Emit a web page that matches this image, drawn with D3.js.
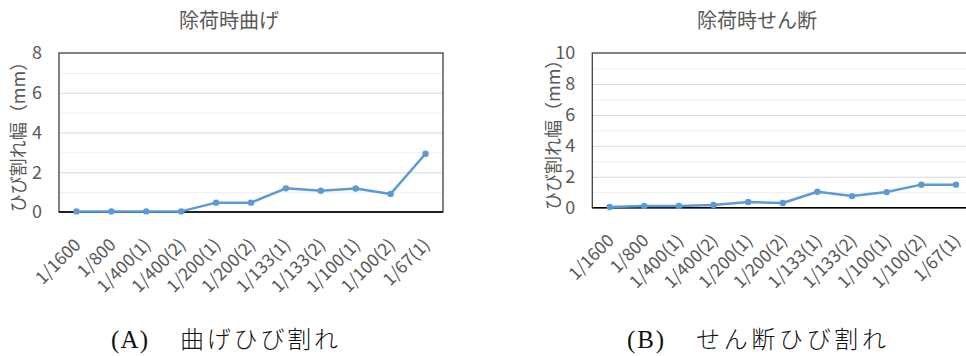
<!DOCTYPE html>
<html>
<head>
<meta charset="utf-8">
<script src="https://cdn.jsdelivr.net/npm/d3@7"></script>
<style>
  html, body { margin: 0; padding: 0; background: #fff; overflow: hidden; }
  svg { display: block; }
</style>
</head>
<body>
<svg id="chart" width="966" height="356"></svg>
<script>
// Drift stages (x axis)
const categories = ["1/1600", "1/800", "1/400(1)", "1/400(2)", "1/200(1)", "1/200(2)",
                    "1/133(1)", "1/133(2)", "1/100(1)", "1/100(2)", "1/67(1)"];
// Residual crack width after unloading (mm)
const bendingWidth = [0.03, 0.03, 0.03, 0.03, 0.47, 0.47, 1.19, 1.07, 1.18, 0.91, 2.93];
const shearWidth   = [0.05, 0.11, 0.11, 0.17, 0.37, 0.30, 1.03, 0.75, 1.01, 1.49, 1.49];
// Axis settings
const bendingTicks = [0, 2, 4, 6, 8];
const shearTicks = [0, 2, 4, 6, 8, 10];

const yLabel = "ひび割れ幅（mm）";
const font = "'Noto Sans CJK JP', 'Noto Sans', sans-serif";
const textColor = "#595959";
const lineColor = "#5b9bd5";

const svg = d3.select("#chart");

function drawPanel(cfg) {
  const g = svg.append("g");
  const x = d3.scalePoint().domain(categories).range([cfg.left, cfg.right]).padding(0.5);
  const y = d3.scaleLinear().domain([0, cfg.max]).range([cfg.bottom, cfg.top]);
  const w = cfg.right - cfg.left;

  // minor gridlines (odd values)
  const minor = d3.range(1, cfg.max, 2);
  g.append("g")
    .attr("transform", `translate(${cfg.left},0)`)
    .call(d3.axisLeft(y).tickValues(minor).tickSize(-w).tickFormat(""))
    .call(s => s.select(".domain").remove())
    .call(s => s.selectAll("line").attr("stroke", "#eeeeee").attr("stroke-width", 1));

  // major gridlines
  g.append("g")
    .attr("transform", `translate(${cfg.left},0)`)
    .call(d3.axisLeft(y).tickValues(cfg.ticks.filter(t => t > 0 && t < cfg.max)).tickSize(-w).tickFormat(""))
    .call(s => s.select(".domain").remove())
    .call(s => s.selectAll("line").attr("stroke", "#d9d9d9").attr("stroke-width", 1));

  // frame
  g.append("rect")
    .attr("x", cfg.left).attr("y", cfg.top)
    .attr("width", w).attr("height", cfg.bottom - cfg.top)
    .attr("fill", "none").attr("stroke", "#404040").attr("stroke-width", 1.3);

  // y tick labels
  g.append("g")
    .attr("transform", `translate(${cfg.left},0)`)
    .call(d3.axisLeft(y).tickValues(cfg.ticks).tickSize(0).tickPadding(cfg.tickPad))
    .call(s => s.select(".domain").remove())
    .call(s => s.selectAll("text")
      .attr("fill", textColor)
      .style("font-family", font)
      .style("font-size", "18px"));

  // bottom axis line and rotated category labels
  g.append("g")
    .attr("transform", `translate(0,${cfg.bottom})`)
    .call(d3.axisBottom(x).tickSize(0).tickPadding(0))
    .call(s => s.select(".domain").attr("stroke", "#000").attr("stroke-width", 1.5)
      .attr("d", `M${cfg.left},0H${cfg.right}`))
    .call(s => s.selectAll(".tick text")
      .attr("fill", textColor)
      .style("font-family", font)
      .style("font-size", "17.5px")
      .attr("text-anchor", "end")
      .attr("dy", null)
      .attr("y", null)
      .attr("transform", "translate(5,34) rotate(-45)"));

  // y axis title
  g.append("text")
    .attr("transform", `translate(${cfg.yLabelX},${(cfg.top + cfg.bottom) / 2}) rotate(-90)`)
    .attr("text-anchor", "middle")
    .attr("dominant-baseline", "central")
    .attr("fill", textColor)
    .style("font-family", font)
    .style("font-size", "18px")
    .text(yLabel);

  // chart title
  g.append("text")
    .attr("x", cfg.titleX).attr("y", 28)
    .attr("text-anchor", "middle")
    .attr("fill", textColor)
    .style("font-family", font)
    .style("font-size", "20px")
    .text(cfg.title);

  // series line
  const line = d3.line()
    .x((d, i) => x(categories[i]))
    .y(d => y(d));
  g.append("path")
    .datum(cfg.values)
    .attr("fill", "none")
    .attr("stroke", lineColor)
    .attr("stroke-width", 2.5)
    .attr("stroke-linejoin", "round")
    .attr("d", line);

  g.selectAll("circle.pt")
    .data(cfg.values)
    .join("circle")
    .attr("class", "pt")
    .attr("cx", (d, i) => x(categories[i]))
    .attr("cy", d => y(d))
    .attr("r", 3.2)
    .attr("fill", lineColor);

  // caption below the panel
  const cap = g.append("g");
  cap.append("text")
    .attr("x", cfg.capX).attr("y", 348)
    .attr("fill", "#111")
    .attr("textLength", 37)
    .style("font-family", "'Liberation Serif', 'Times New Roman', serif")
    .style("font-size", "25px")
    .text(cfg.capLetter);
  cap.append("text")
    .attr("x", cfg.capX + 69).attr("y", 348)
    .attr("fill", "#111")
    .attr("textLength", cfg.capLen)
    .attr("lengthAdjust", "spacing")
    .style("font-family", "'Noto Sans CJK JP', serif")
    .style("font-weight", 300)
    .style("font-size", "24px")
    .text(cfg.capText);
}

drawPanel({
  left: 59, right: 443, top: 53, bottom: 212, max: 8, ticks: bendingTicks,
  values: bendingWidth, title: "除荷時曲げ", titleX: 229, yLabelX: 17, tickPad: 17,
  capX: 111, capLetter: "(A)", capText: "曲げひび割れ", capLen: 158
});

drawPanel({
  left: 592.3, right: 973.3, top: 53, bottom: 207.7, max: 10, ticks: shearTicks,
  values: shearWidth, title: "除荷時せん断", titleX: 757, yLabelX: 552, tickPad: 17,
  capX: 627, capLetter: "(B)", capText: "せん断ひび割れ", capLen: 190
});
</script>
</body>
</html>
